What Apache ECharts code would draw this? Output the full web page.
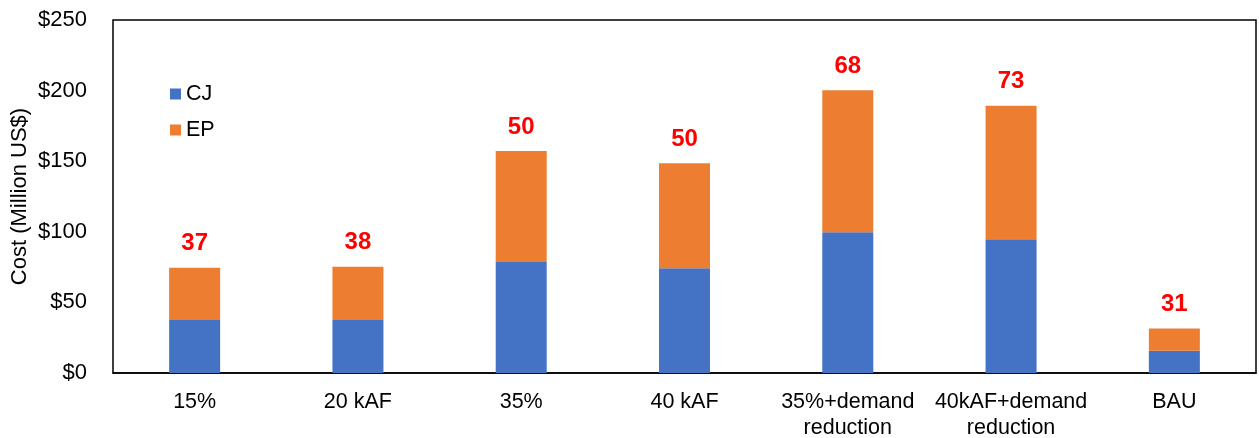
<!DOCTYPE html>
<html><head><meta charset="utf-8">
<script src="https://cdn.jsdelivr.net/npm/echarts@6/dist/echarts.min.js"></script>
<style>html,body{margin:0;padding:0;background:#fff}#c{width:1259px;height:438px}</style>
</head><body><div id="c"></div>
<script>
const categories = ['15%', '20 kAF', '35%', '40 kAF', '35%+demand\nreduction', '40kAF+demand\nreduction', 'BAU'];
const cjValues = [37.5, 37.5, 78.6, 74.1, 99.6, 94.7, 15.8];
const epValues = [37.1, 37.8, 78.6, 74.4, 100.6, 94.6, 15.8];
const topLabels = [37, 38, 50, 50, 68, 73, 31];
const yTicks = {min: 0, max: 250, interval: 50};

const font = 'Liberation Sans, Arial, sans-serif';
const chart = echarts.init(document.getElementById('c'));
chart.setOption({
  animation: false,
  textStyle: {fontFamily: font},
  grid: {left: 113, right: 3, top: 20, bottom: 65, show: true, borderColor: '#000', borderWidth: 1.5,
         backgroundColor: 'transparent', containLabel: false, outerBoundsMode: 'none'},
  legend: {
    orient: 'vertical', left: 170, top: 83, padding: 0, itemWidth: 11, itemHeight: 11, itemGap: 14,
    icon: 'rect',
    textStyle: {fontSize: 21.5, color: '#000', fontFamily: font},
    data: ['CJ', 'EP']
  },
  xAxis: {
    type: 'category', data: categories,
    axisLine: {lineStyle: {color: '#000', width: 1.5}},
    axisTick: {show: false},
    axisLabel: {fontSize: 21.5, color: '#000', margin: 16, lineHeight: 26, interval: 0, fontFamily: font}
  },
  yAxis: {
    type: 'value', min: yTicks.min, max: yTicks.max, interval: yTicks.interval,
    name: 'Cost (Million US$)', nameLocation: 'middle', nameGap: 82, nameMoveOverlap: false,
    nameTextStyle: {fontSize: 22, color: '#000', fontFamily: font},
    axisLine: {show: false}, axisTick: {show: false}, splitLine: {show: false},
    axisLabel: {fontSize: 22, color: '#000', margin: 26, formatter: v => '$' + v, fontFamily: font}
  },
  series: [
    {name: 'CJ', type: 'bar', stack: 's', barWidth: 51, data: cjValues, itemStyle: {color: '#4472C4'}},
    {name: 'EP', type: 'bar', stack: 's', barWidth: 51, data: epValues, itemStyle: {color: '#ED7D31'},
     label: {show: true, position: 'top', distance: 12, color: '#FF0000', fontWeight: 'bold', fontSize: 24, fontFamily: font,
       formatter: p => String(topLabels[p.dataIndex])}}
  ]
});
</script></body></html>
